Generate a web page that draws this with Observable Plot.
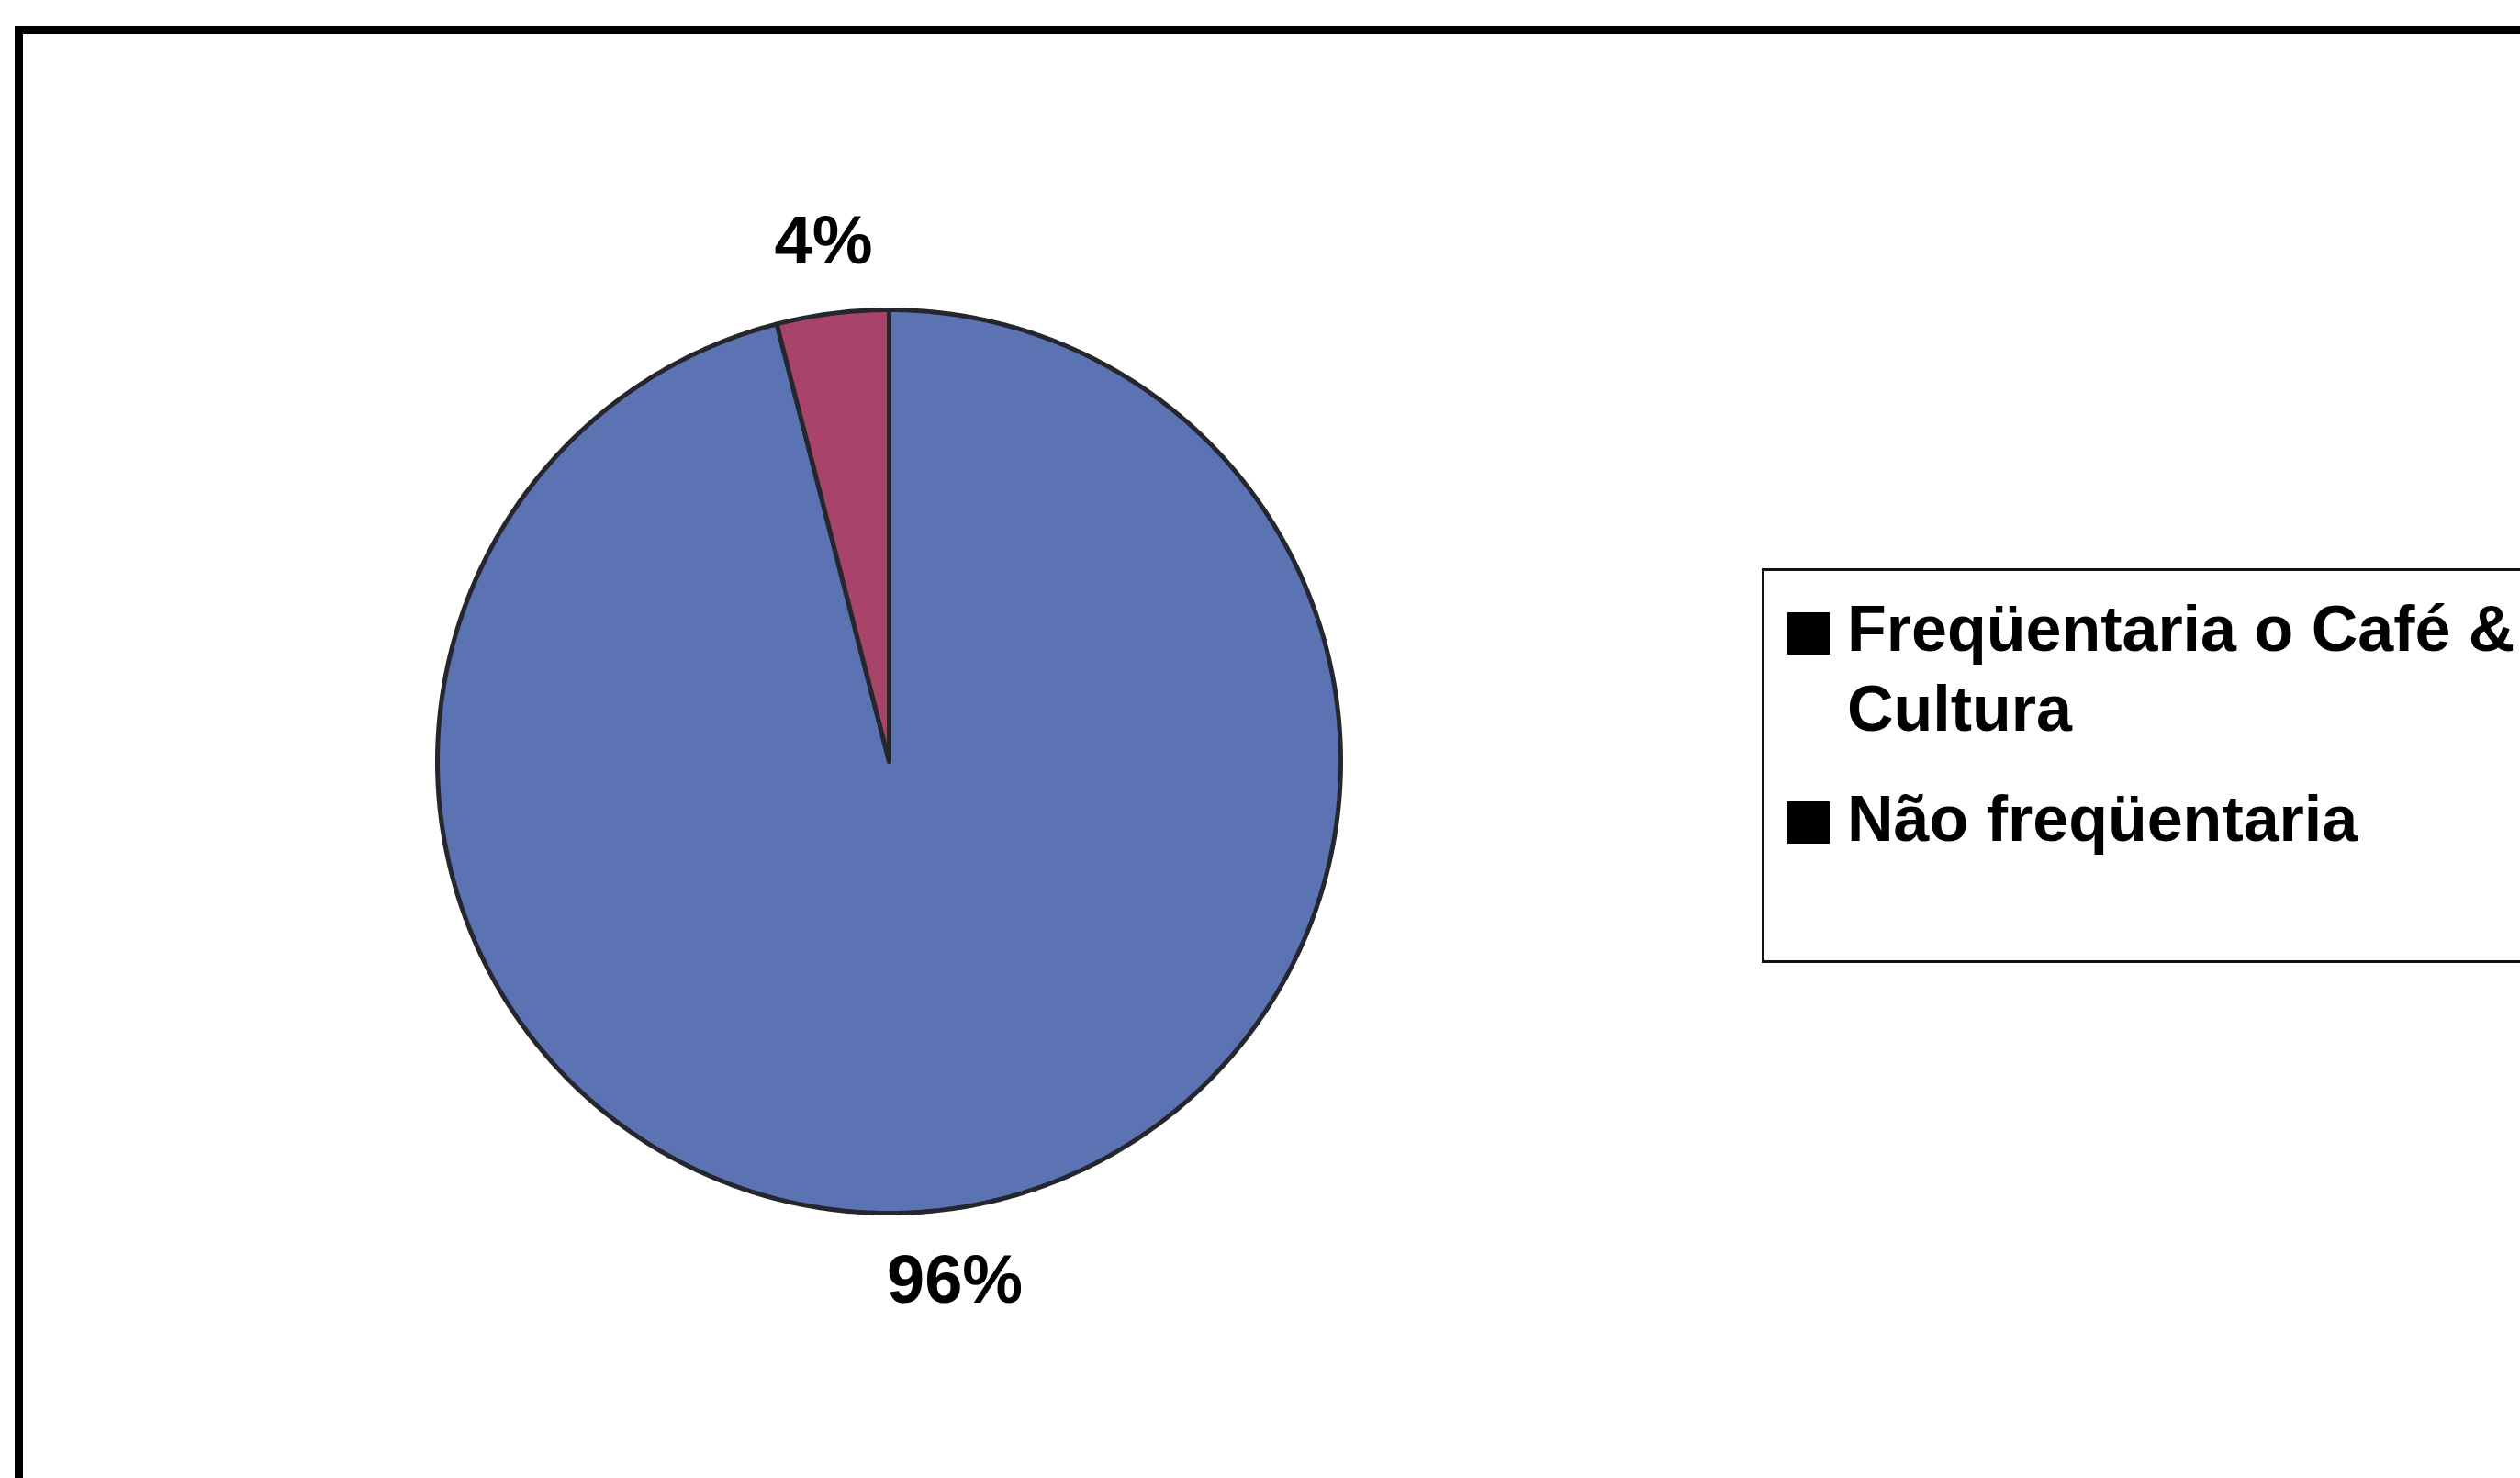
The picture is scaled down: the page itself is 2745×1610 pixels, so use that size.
<!DOCTYPE html>
<html><head><meta charset="utf-8">
<script src="https://cdn.jsdelivr.net/npm/d3@7"></script>
<script src="https://cdn.jsdelivr.net/npm/@observablehq/plot@0.6"></script>
<style>
html,body{margin:0;padding:0;background:#fff;width:2745px;height:1610px;overflow:hidden;}
#chart{position:absolute;left:0;top:0;}
.frame{position:absolute;left:16px;top:28px;width:3000px;height:2000px;border-left:9px solid #000;border-top:9px solid #000;}
.legend{position:absolute;left:1919px;top:619px;width:1000px;height:424px;border:3px solid #111;}
.item{position:absolute;font-family:"Liberation Sans",Arial,sans-serif;font-weight:bold;font-size:70px;line-height:87px;color:#000;width:770px;}
.sw{position:absolute;width:46px;height:46px;background:#000;}
</style></head><body>
<div id="chart"></div>
<div class="frame"></div>
<div class="legend" id="legend"></div>
<script>
// Data
const categories = ["Freqüentaria o Café & Cultura", "Não freqüentaria"];
const values = [96, 4];
const labels = ["96%", "4%"];
const colors = ["#5b72b3", "#a8446a"];

// Build slice outlines from the values (d3.pie angles: 0 at 12 o'clock, clockwise)
const arcs = d3.pie().sort(null).value(d => d)(values);
const pts = [];
arcs.forEach((p, i) => {
  const n = Math.max(2, Math.ceil((p.endAngle - p.startAngle) / (Math.PI / 360)));
  pts.push({name: categories[i], x: 0, y: 0});
  for (let k = 0; k <= n; k++) {
    const a = p.startAngle + (p.endAngle - p.startAngle) * k / n;
    pts.push({name: categories[i], x: Math.sin(a), y: Math.cos(a)});
  }
});
const labelData = arcs.map((p, i) => {
  const m = (p.startAngle + p.endAngle) / 2;
  return {x: 1.16 * Math.sin(m), y: 1.16 * Math.cos(m), label: labels[i]};
});

const chart = Plot.plot({
  width: 2745,
  height: 1610,
  marginLeft: 476,
  marginRight: 1285,
  marginTop: 337,
  marginBottom: 289,
  style: {background: "transparent", overflow: "visible"},
  x: {domain: [-1, 1], axis: null},
  y: {domain: [-1, 1], axis: null},
  color: {domain: categories, range: colors},
  marks: [
    Plot.line(pts, {x: "x", y: "y", z: "name", fill: "name", stroke: "#26262e", strokeWidth: 5, curve: "linear-closed"}),
    Plot.text(labelData, {x: "x", y: "y", text: "label", fontSize: 74, fontWeight: "bold",
      fontFamily: "Liberation Sans, Arial, sans-serif", fill: "#000", textAnchor: "middle", lineAnchor: "middle"})
  ]
});
document.getElementById("chart").appendChild(chart);

// Legend
const legend = document.getElementById("legend");
const tops = [20, 227];
const swTops = [45, 251];
categories.forEach((c, i) => {
  const sw = document.createElement("div");
  sw.className = "sw";
  sw.style.left = "25px";
  sw.style.top = swTops[i] + "px";
  legend.appendChild(sw);
  const t = document.createElement("div");
  t.className = "item";
  t.style.left = "90px";
  t.style.top = tops[i] + "px";
  t.textContent = c;
  legend.appendChild(t);
});
</script>
</body></html>
